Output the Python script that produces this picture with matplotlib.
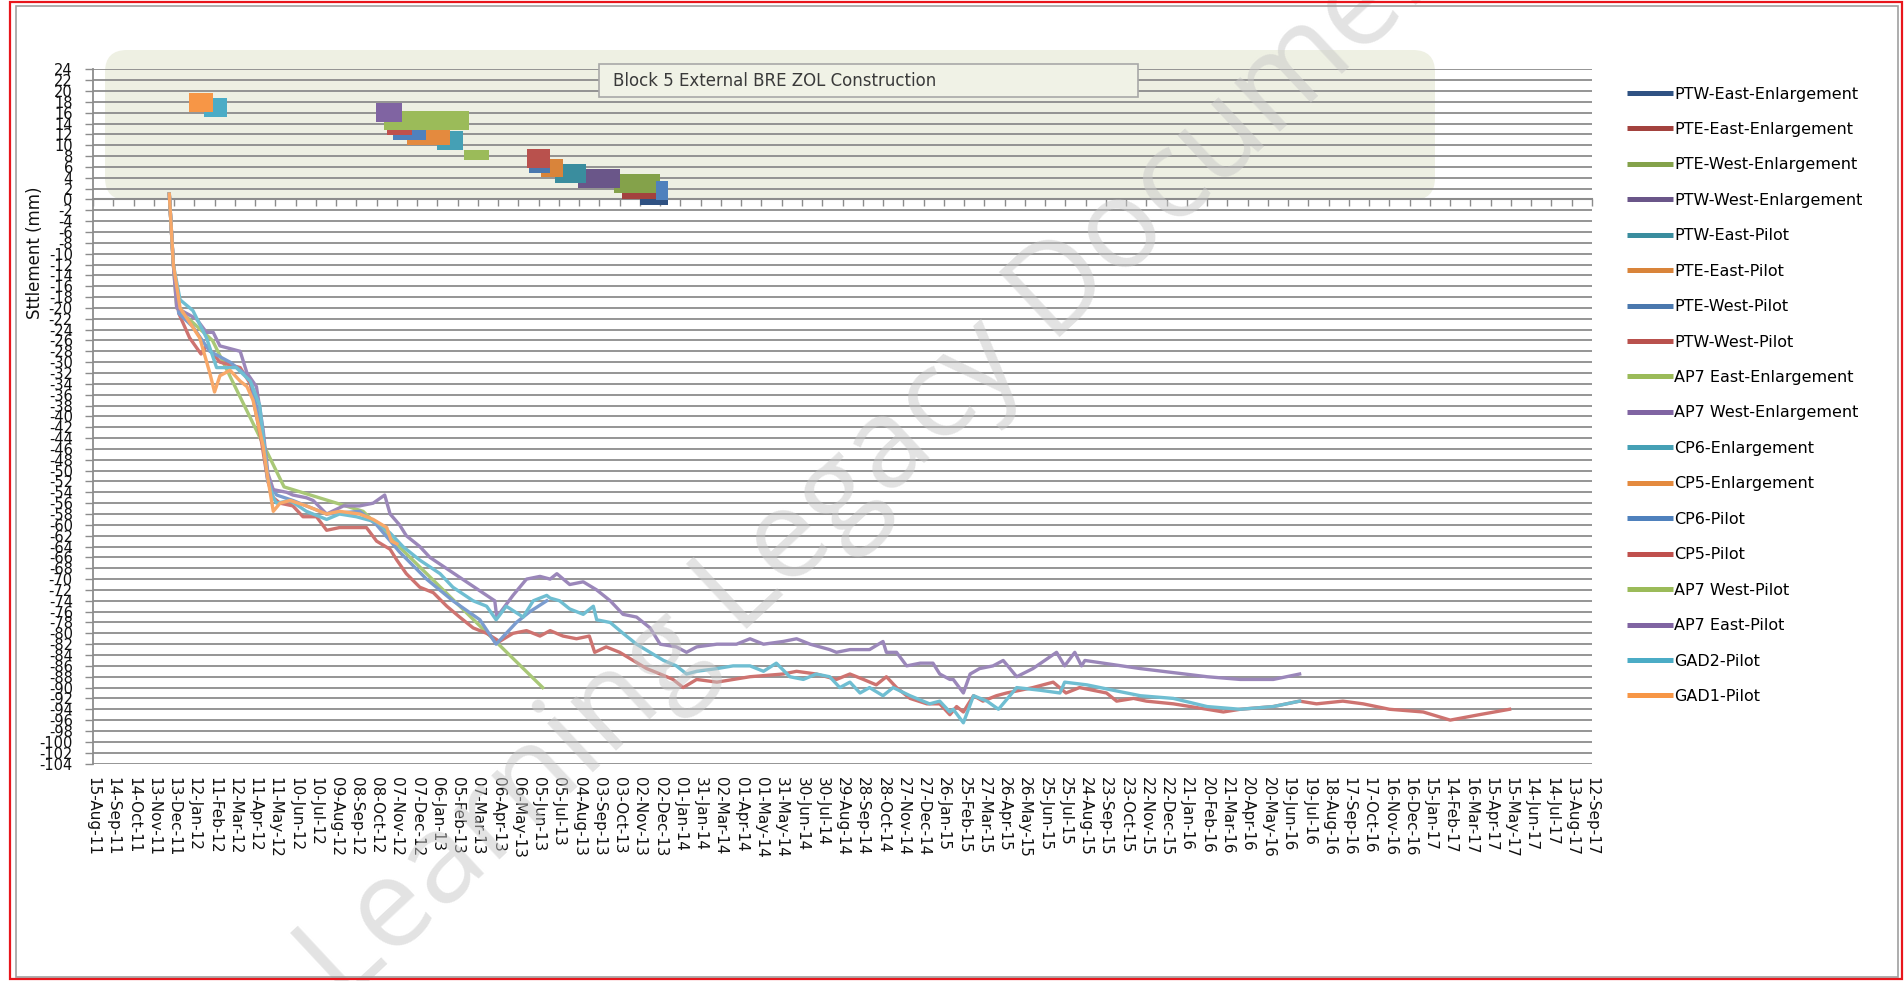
import matplotlib
matplotlib.use('Agg')
import matplotlib.pyplot as plt
import matplotlib.dates as mdates
from matplotlib.patches import FancyBboxPatch, Rectangle
from matplotlib.lines import Line2D
import pandas as pd
import numpy as np

# ---------------- data ----------------
series_names = [
    'PTW-East-Enlargement', 'PTE-East-Enlargement', 'PTE-West-Enlargement',
    'PTW-West-Enlargement', 'PTW-East-Pilot', 'PTE-East-Pilot', 'PTE-West-Pilot',
    'PTW-West-Pilot', 'AP7 East-Enlargement', 'AP7 West-Enlargement',
    'CP6-Enlargement', 'CP5-Enlargement', 'CP6-Pilot', 'CP5-Pilot',
    'AP7 West-Pilot', 'AP7 East-Pilot', 'GAD2-Pilot', 'GAD1-Pilot']

# construction activity segments (Gantt bars)
seg_series = ['PTW-East-Enlargement', 'CP6-Pilot', 'PTE-East-Enlargement',
              'PTE-West-Enlargement', 'PTW-West-Enlargement', 'PTW-East-Pilot',
              'PTE-East-Pilot', 'PTE-West-Pilot', 'PTW-West-Pilot',
              'AP7 East-Enlargement', 'CP6-Enlargement', 'CP5-Enlargement',
              'CP6-Pilot', 'CP5-Pilot', 'AP7 West-Pilot', 'AP7 East-Pilot',
              'GAD2-Pilot', 'GAD1-Pilot']
seg_start = ['2013-11-02', '2013-11-26', '2013-10-06', '2013-09-24', '2013-08-03',
             '2013-06-29', '2013-06-08', '2013-05-21', '2013-05-19', '2013-02-15',
             '2013-01-05', '2012-11-22', '2012-11-02', '2012-10-24', '2012-10-19',
             '2012-10-07', '2012-01-27', '2012-01-04']
seg_end = ['2013-12-14', '2013-12-14', '2013-11-26', '2013-12-01', '2013-10-03',
           '2013-08-14', '2013-07-11', '2013-06-22', '2013-06-22', '2013-03-23',
           '2013-02-13', '2013-01-25', '2012-12-20', '2012-11-30', '2013-02-22',
           '2012-11-14', '2012-02-29', '2012-02-09']
seg_level = [0.8, 1.7, 1.9, 2.9, 3.8, 4.7, 5.8, 6.7, 7.5, 8.2,
             10.9, 11.7, 12.8, 13.6, 14.6, 16.0, 16.9, 17.9]

# settlement records (mm)
ap7e_dates = ['2011-12-06', '2011-12-12', '2011-12-17', '2012-01-15', '2012-01-30', '2012-02-09',
              '2012-02-19', '2012-03-05', '2012-03-20', '2012-03-30', '2012-04-13', '2012-04-23',
              '2012-04-30', '2012-05-08', '2012-05-28', '2012-06-06', '2012-06-26', '2012-07-06',
              '2012-07-26', '2012-08-20', '2012-09-13', '2012-10-03', '2012-10-20', '2012-10-28',
              '2012-11-11', '2012-11-21', '2012-12-11', '2012-12-26', '2013-04-01', '2013-04-04',
              '2013-04-28', '2013-05-18', '2013-06-07', '2013-06-22', '2013-07-02', '2013-07-21',
              '2013-08-10', '2013-08-30', '2013-09-19', '2013-10-08', '2013-10-28', '2013-11-17',
              '2013-12-02', '2013-12-26', '2014-01-10', '2014-01-25', '2014-02-24', '2014-03-25',
              '2014-04-14', '2014-05-04', '2014-06-02', '2014-06-22', '2014-07-12', '2014-08-10',
              '2014-08-20', '2014-09-09', '2014-10-08', '2014-10-28', '2014-11-02', '2014-11-17',
              '2014-12-02', '2014-12-22', '2015-01-10', '2015-01-20', '2015-02-04', '2015-02-09',
              '2015-02-24', '2015-03-06', '2015-03-20', '2015-04-09', '2015-04-24', '2015-05-14',
              '2015-06-07', '2015-07-12', '2015-07-24', '2015-08-08', '2015-08-18', '2015-08-23',
              '2015-11-13', '2016-02-20', '2016-04-09', '2016-05-28', '2016-07-06']
ap7e_vals = [1.0, -12, -20, -22, -24.5, -24.5, -27, -27.5, -28, -32, -34.5, -42.5,
             -50.5, -53.5, -54, -54.5, -55, -55.5, -58, -56.5, -56.5, -56, -54.5, -58,
             -60, -62, -64, -66, -74, -77, -73, -70, -69.5, -70, -69, -71,
             -70.5, -72, -74, -76.5, -77, -79, -82, -82.5, -83.5, -82.5, -82, -82,
             -81, -82, -81.5, -81, -82, -83, -83.5, -83, -83, -81.5, -83.5, -83.5,
             -86, -85.5, -85.5, -87.5, -88.5, -88.5, -91, -87.5, -86.5, -86, -85, -88,
             -86.5, -83.5, -86, -83.5, -86, -85, -86.5, -88, -88.5, -88.5, -87.5]

gad2_dates = ['2011-12-06', '2011-12-12', '2011-12-22', '2012-01-10', '2012-01-30', '2012-02-14',
              '2012-03-14', '2012-04-04', '2012-04-18', '2012-04-30', '2012-05-08', '2012-05-13',
              '2012-06-02', '2012-06-26', '2012-07-26', '2012-08-14', '2012-09-08', '2012-10-08',
              '2012-10-28', '2012-11-16', '2012-12-11', '2013-01-10', '2013-01-29', '2013-02-28',
              '2013-03-20', '2013-04-03', '2013-04-18', '2013-05-13', '2013-05-28', '2013-06-17',
              '2013-06-22', '2013-07-06', '2013-07-21', '2013-08-10', '2013-08-25', '2013-08-30',
              '2013-09-19', '2013-10-08', '2013-10-28', '2013-11-17', '2013-12-07', '2013-12-26',
              '2014-01-10', '2014-01-25', '2014-02-24', '2014-03-20', '2014-04-14', '2014-05-04',
              '2014-05-23', '2014-06-12', '2014-07-02', '2014-07-21', '2014-08-10', '2014-08-25',
              '2014-09-09', '2014-09-24', '2014-10-08', '2014-10-28', '2014-11-12', '2014-12-07',
              '2015-01-05', '2015-01-20', '2015-02-04', '2015-02-09', '2015-02-24', '2015-03-11',
              '2015-03-31', '2015-04-17', '2015-05-14', '2015-06-18', '2015-07-17', '2015-07-24',
              '2015-08-26', '2015-10-04', '2015-11-13', '2016-01-01', '2016-02-20', '2016-04-09',
              '2016-05-28', '2016-07-06']
gad2_vals = [1.0, -12, -18.5, -20.5, -25.5, -31, -31, -33.5, -38, -51.5, -55, -56,
             -55.5, -57.5, -59, -58, -58.5, -59.5, -61.5, -64, -66.5, -69, -71.5, -74,
             -75, -77.5, -75, -77, -74, -73, -73.5, -74, -75.5, -76.5, -75, -77.5,
             -78, -80, -82, -83.5, -85, -86, -87.5, -87, -86.5, -86, -86, -87,
             -85.5, -88, -88.5, -87.5, -88, -90, -89, -91, -90, -91.5, -90, -91.5,
             -93, -92.5, -94.5, -94, -96.5, -91.5, -92.5, -94, -90, -90.5, -91, -89,
             -89.5, -90.5, -91.5, -92, -93.5, -94, -93.5, -92.5]

cp5p_dates = ['2011-12-06', '2011-12-12', '2011-12-20', '2012-01-05', '2012-01-22', '2012-01-30',
              '2012-02-19', '2012-03-20', '2012-04-04', '2012-04-21', '2012-04-30', '2012-05-08',
              '2012-05-18', '2012-06-06', '2012-06-21', '2012-07-11', '2012-07-26', '2012-08-14',
              '2012-09-03', '2012-09-23', '2012-10-08', '2012-10-28', '2012-11-07', '2012-11-21',
              '2012-12-11', '2012-12-31', '2013-01-20', '2013-02-08', '2013-02-28', '2013-03-20',
              '2013-04-08', '2013-04-28', '2013-05-18', '2013-06-07', '2013-06-22', '2013-07-11',
              '2013-07-31', '2013-08-19', '2013-08-27', '2013-09-13', '2013-10-03', '2013-10-23',
              '2013-11-12', '2013-12-02', '2013-12-21', '2014-01-05', '2014-01-25', '2014-02-24',
              '2014-04-14', '2014-06-02', '2014-06-22', '2014-07-21', '2014-08-20', '2014-09-09',
              '2014-09-29', '2014-10-18', '2014-11-02', '2014-11-17', '2014-12-07', '2015-01-01',
              '2015-01-20', '2015-02-04', '2015-02-14', '2015-02-24', '2015-03-11', '2015-03-25',
              '2015-04-14', '2015-04-29', '2015-05-19', '2015-06-07', '2015-07-07', '2015-07-26',
              '2015-08-15', '2015-09-04', '2015-09-24', '2015-10-09', '2015-11-03', '2015-11-22',
              '2016-01-01', '2016-02-20', '2016-03-15', '2016-04-09', '2016-05-28', '2016-07-06',
              '2016-07-31', '2016-09-08', '2016-10-08', '2016-11-16', '2017-01-05', '2017-02-14',
              '2017-03-29', '2017-05-13']
cp5p_vals = [1.0, -12, -21, -25.5, -28.5, -27, -30, -31, -34, -45, -52, -55,
             -56, -56.5, -58.5, -58.5, -61, -60.5, -60.5, -60.5, -63, -64.5, -66.5, -69,
             -71.5, -72.5, -75, -77, -79, -80, -81.5, -80, -79.5, -80.5, -79.5, -80.5,
             -81, -80.5, -83.5, -82.5, -83.5, -85, -86.5, -87.5, -88.5, -90, -88.5, -89,
             -88, -87.5, -87, -87.5, -88.5, -87.5, -88.5, -89.5, -88, -90, -92, -93,
             -93, -95, -93.5, -94.5, -91.5, -92.5, -91.5, -91, -90.5, -90, -89, -91,
             -90, -90.5, -91, -92.5, -92, -92.5, -93, -94, -94.5, -94, -93.5, -92.5,
             -93, -92.5, -93, -94, -94.5, -96, -95, -94]

gad1_dates = ['2011-12-06', '2011-12-12', '2011-12-22', '2012-01-20', '2012-02-04', '2012-02-11',
              '2012-02-19', '2012-03-05', '2012-03-20', '2012-03-30', '2012-04-08', '2012-04-23',
              '2012-04-30', '2012-05-08', '2012-05-18', '2012-06-02', '2012-06-26', '2012-07-26',
              '2012-08-14', '2012-09-13', '2012-10-03', '2012-10-23', '2012-10-30', '2012-11-07']
gad1_vals = [1.0, -12, -20, -25.5, -32, -35.5, -32.5, -31.5, -33.5, -34.5, -37, -45.5,
             -51.5, -57.5, -56, -55.5, -56.5, -58, -57.5, -58, -59, -60.5, -63, -63.5]

cp6p_dates = ['2011-12-06', '2011-12-12', '2011-12-20', '2012-01-10', '2012-02-04', '2012-03-05',
              '2012-04-04', '2012-04-21', '2012-04-30', '2012-05-13', '2012-06-06', '2012-07-26',
              '2012-09-13', '2012-10-08', '2012-11-11', '2012-12-21', '2013-01-29', '2013-03-10',
              '2013-04-03', '2013-04-18', '2013-05-03', '2013-05-23', '2013-06-17']
cp6p_vals = [1.0, -12, -21, -23.5, -28, -30, -33, -43, -52, -54.5, -55.5, -58,
             -57.5, -60, -65, -70, -74, -77.5, -82, -80, -78, -76, -74]

ap7w_dates = ['2011-12-06', '2011-12-12', '2011-12-17', '2012-02-08', '2012-05-24',
              '2012-09-18', '2013-06-11']
ap7w_vals = [1.0, -12, -20, -26, -53, -57.5, -90]

# axis ticks
x_tick_start = '2011-08-15'
x_tick_step_days = 30
x_tick_count = 75
y_ticks = list(range(-104, 25, 2))

# ---------------- styles ----------------
series_colors = {
    'PTW-East-Enlargement': '#2F5283', 'PTE-East-Enlargement': '#A3423E',
    'PTE-West-Enlargement': '#84A24A', 'PTW-West-Enlargement': '#6A5689',
    'PTW-East-Pilot': '#3A8D9E', 'PTE-East-Pilot': '#D9843A',
    'PTE-West-Pilot': '#4A78AE', 'PTW-West-Pilot': '#B9514D',
    'AP7 East-Enlargement': '#9BBB59', 'AP7 West-Enlargement': '#8064A2',
    'CP6-Enlargement': '#45A0B5', 'CP5-Enlargement': '#E48A3E',
    'CP6-Pilot': '#4F81BD', 'CP5-Pilot': '#C0504D',
    'AP7 West-Pilot': '#9BBB59', 'AP7 East-Pilot': '#8064A2',
    'GAD2-Pilot': '#4BACC6', 'GAD1-Pilot': '#F79646'}
thin_series = {'AP7 East-Enlargement'}

W, H = 1904, 981
fig = plt.figure(figsize=(W / 100, H / 100), dpi=100)
fig.patch.set_facecolor('white')


def fx(px):
    return px / W


def fy(py):
    return 1 - py / H


ax = fig.add_axes([fx(93), fy(763.5), fx(1592) - fx(93), fy(69.3) - fy(763.5)])
ax.patch.set_alpha(0)

# background panel behind the construction bars
bg = FancyBboxPatch((1.05, (H - 200) / 100), 13.30, 1.50,
                    boxstyle='round,pad=0,rounding_size=0.22',
                    transform=fig.dpi_scale_trans, facecolor='#EEF0E3',
                    edgecolor='none', zorder=-5)
fig.add_artist(bg)

d2n = lambda lst: mdates.date2num(pd.to_datetime(lst))

# Gantt bars, drawn in legend order
order = sorted(range(len(seg_series)), key=lambda i: series_names.index(seg_series[i]))
s_num = d2n(seg_start)
e_num = d2n(seg_end)
for i in order:
    nm = seg_series[i]
    h = 1.85 if nm in thin_series else 3.5
    ax.barh(seg_level[i], e_num[i] - s_num[i], left=s_num[i], height=h,
            color=series_colors[nm], zorder=3, linewidth=0)

# settlement curves
curves = [
    (ap7w_dates, ap7w_vals, '#A9C877'),
    (cp5p_dates, cp5p_vals, '#CE7370'),
    (cp6p_dates, cp6p_vals, '#7A9CCF'),
    (ap7e_dates, ap7e_vals, '#9B87BA'),
    (gad2_dates, gad2_vals, '#6FBED2'),
    (gad1_dates, gad1_vals, '#F8A868'),
]
for d, v, c in curves:
    ax.plot(d2n(d), v, color=c, lw=2.4, solid_joinstyle='round', zorder=4)

# axes formatting
ax.yaxis.grid(True, color='#8C8C8C', lw=1.3, zorder=1)
ax.set_axisbelow(True)
for s in ['right', 'bottom']:
    ax.spines[s].set_visible(False)
ax.spines['left'].set_color('#8C8C8C')
ax.spines['left'].set_linewidth(1.3)
ax.spines['top'].set_position(('data', 0))
ax.spines['top'].set_color('#8C8C8C')
ax.spines['top'].set_linewidth(1.5)
ax.tick_params(axis='x', bottom=False, top=True, labelbottom=True, labeltop=False,
               direction='in', length=5, width=1, color='#8C8C8C', pad=10,
               labelrotation=270, labelsize=11, labelcolor='#111111')
ax.tick_params(axis='y', direction='out', length=5.5, width=1, color='#8C8C8C', pad=9,
               labelsize=10.5, labelcolor='#111111')

tick_dates = pd.date_range(x_tick_start, periods=x_tick_count, freq=f'{x_tick_step_days}D')
ax.set_xlim(d2n([tick_dates[0]])[0], d2n([tick_dates[-1]])[0])
ax.set_ylim(-104, 24)
ax.set_xticks(d2n(tick_dates))
ax.set_xticklabels([t.strftime('%d-%b-%y') for t in tick_dates])
for lab in ax.get_xticklabels():
    lab.set_rotation(270)
    lab.set_ha('center')
    lab.set_va('top')
ax.set_yticks(y_ticks)
ax.set_yticklabels([str(t) for t in y_ticks])

ax.set_ylabel('Sttlement (mm)', fontsize=12, color='#111111')
ax.yaxis.set_label_coords(-0.0327, 0.7354)

# title box
fig.add_artist(Rectangle((5.99, (H - 97) / 100), 5.39, 0.33, transform=fig.dpi_scale_trans,
                         facecolor='#F0F2E6', edgecolor='#A8A8A8', lw=1.2, zorder=6))
fig.text(6.13, (H - 81) / 100, 'Block 5 External BRE ZOL Construction',
         transform=fig.dpi_scale_trans, fontsize=12, color='#3A3A3A',
         va='center', ha='left', zorder=7)

# legend
handles = [Line2D([], [], color=series_colors[n], lw=3.6, solid_capstyle='butt')
           for n in series_names]
fig.legend(handles, series_names, loc='upper left',
           bbox_to_anchor=(fx(1627), fy(86.5)), frameon=False, fontsize=11.5,
           handlelength=2.85, handletextpad=0.1, labelspacing=1.28,
           borderpad=0, borderaxespad=0)

# watermark
fig.text(8.98, (H - 444) / 100, 'Learning Legacy Document', transform=fig.dpi_scale_trans,
         rotation=43, rotation_mode='anchor', ha='center', va='center',
         family='Open Sans', fontsize=90, color='#C8C8C8', alpha=0.5, zorder=20)

# outer frames
fig.add_artist(Rectangle((0.155, 0.04), 18.82, 9.71, transform=fig.dpi_scale_trans,
                         facecolor='none', edgecolor='#A0A0A0', lw=1.2, zorder=30))
fig.add_artist(Rectangle((0.10, 0.02), 18.92, 9.77, transform=fig.dpi_scale_trans,
                         facecolor='none', edgecolor='#E8161C', lw=1.6, zorder=31))

fig.savefig('out.png', dpi=100, facecolor='white')
